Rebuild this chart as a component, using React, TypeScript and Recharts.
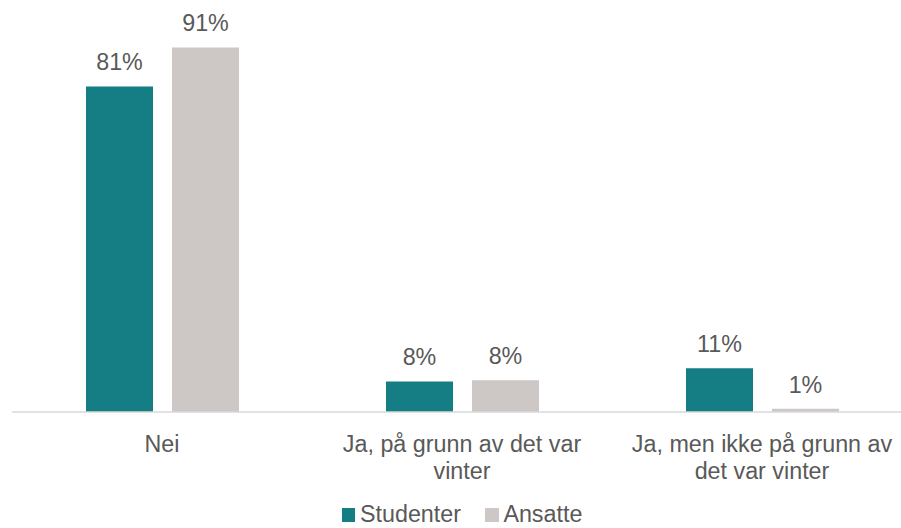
import React from "react";
import { BarChart, Bar, XAxis, YAxis, LabelList, Legend } from "recharts";

const categories = ["Nei", "Ja, på grunn av det var vinter", "Ja, men ikke på grunn av det var vinter"];
const tickLines = [["Nei"], ["Ja, på grunn av det var", "vinter"], ["Ja, men ikke på grunn av", "det var vinter"]];
const studenter = [81, 7.6, 10.9];
const ansatte = [90.7, 7.9, 0.8];

const TEAL = "#157D84";
const GREY = "#CDC8C5";
const TEXT = "#595959";
const FONT = "'Liberation Sans', Arial, sans-serif";
const FS = 23.3;

const data = categories.map((name, i) => ({
  name,
  Studenter: studenter[i],
  Ansatte: ansatte[i],
}));

const pct = (v: number) => `${Math.round(v)}%`;

function CategoryTick(props: any) {
  const { x, y, index } = props;
  const lines = tickLines[index] || [props.payload.value];
  return (
    <text x={x} y={y} textAnchor="middle" fill={TEXT} fontSize={FS} fontFamily={FONT}>
      {lines.map((l: string, i: number) => (
        <tspan key={i} x={x} dy={i === 0 ? 39.5 : 27}>
          {l}
        </tspan>
      ))}
    </text>
  );
}

function LegendBox() {
  const items = [
    { label: "Studenter", color: TEAL },
    { label: "Ansatte", color: GREY },
  ];
  return (
    <div style={{ display: "flex", justifyContent: "center", height: 24, lineHeight: "24px", fontFamily: FONT, fontSize: FS, color: TEXT }}>
      {items.map((it, i) => (
        <div key={it.label} style={{ display: "flex", alignItems: "baseline", marginLeft: i === 0 ? 0 : 24 }}>
          <span style={{ display: "inline-block", width: 13.7, height: 13.7, background: it.color, marginRight: 4.7 }} />
          <span>{it.label}</span>
        </div>
      ))}
    </div>
  );
}

export default function App() {
  return (
    <div style={{ position: "fixed", left: 0, top: 0, width: 901, height: 528, overflow: "hidden", background: "#fff" }}>
      <BarChart
        width={920}
        height={540}
        data={data}
        margin={{ top: 10, right: 8, left: 12, bottom: 0 }}
        barSize={67}
        barGap={19}
      >
        <XAxis
          dataKey="name"
          height={104}
          tickLine={false}
          tickSize={0}
          tickMargin={0}
          axisLine={{ stroke: "#D9D9D9", strokeWidth: 1.3 }}
          tick={<CategoryTick />}
          interval={0}
        />
        <YAxis hide domain={[0, 100]} />
        <Legend verticalAlign="bottom" content={<LegendBox />} wrapperStyle={{ bottom: 14 }} />
        <Bar dataKey="Studenter" fill={TEAL} isAnimationActive={false}>
          <LabelList dataKey="Studenter" position="top" offset={16} formatter={pct} fill={TEXT} fontSize={FS} fontFamily={FONT} />
        </Bar>
        <Bar dataKey="Ansatte" fill={GREY} isAnimationActive={false}>
          <LabelList dataKey="Ansatte" position="top" offset={16} formatter={pct} fill={TEXT} fontSize={FS} fontFamily={FONT} />
        </Bar>
      </BarChart>
    </div>
  );
}
